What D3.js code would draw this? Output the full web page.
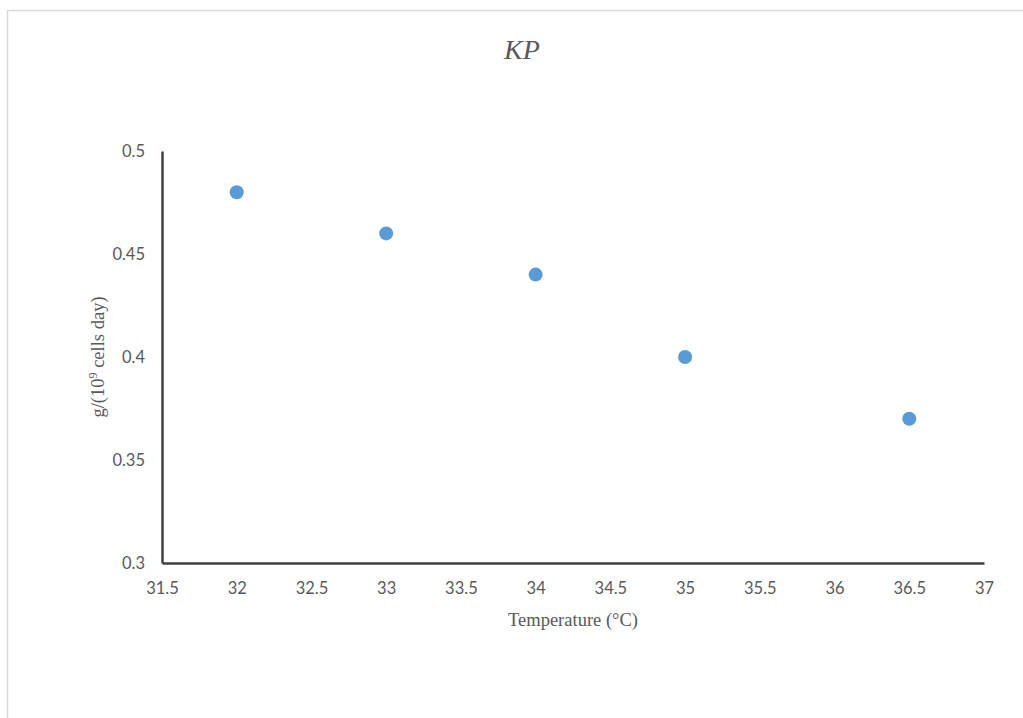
<!DOCTYPE html>
<html>
<head>
<meta charset="utf-8">
<script src="https://cdn.jsdelivr.net/npm/d3@7"></script>
<style>
  body { margin: 0; background: #fff; }
  svg { display: block; }
</style>
</head>
<body>
<div id="chart"></div>
<script>
// data
var temperatures = [32, 33, 34, 35, 36.5];
var growthRates = [0.48, 0.46, 0.44, 0.40, 0.37];
var xTicks = [31.5, 32, 32.5, 33, 33.5, 34, 34.5, 35, 35.5, 36, 36.5, 37];
var yTicks = [0.3, 0.35, 0.4, 0.45, 0.5];

var W = 1023, H = 718;
var margin = { top: 151, right: 39, bottom: 155, left: 162 },
    width = W - margin.left - margin.right,
    height = H - margin.top - margin.bottom;

var svg = d3.select("#chart")
    .append("svg")
    .attr("width", W)
    .attr("height", H);

// chart area border
svg.append("rect")
    .attr("x", 7.5).attr("y", 10.5)
    .attr("width", W + 10).attr("height", H + 10)
    .attr("fill", "none")
    .attr("stroke", "#d9d9d9")
    .attr("stroke-width", 1.5);

var g = svg.append("g")
    .attr("transform", "translate(" + margin.left + "," + margin.top + ")");

var x = d3.scaleLinear().domain([31.5, 37]).range([0, width]);
var y = d3.scaleLinear().domain([0.3, 0.5]).range([height, 0]);

// x axis
var xAxis = g.append("g")
    .attr("transform", "translate(0," + height + ")")
    .call(d3.axisBottom(x).tickValues(xTicks).tickSize(0).tickPadding(19)
        .tickFormat(function (d) { return String(d); }));
xAxis.select(".domain").attr("stroke", "#404040").attr("stroke-width", 2.5);
xAxis.selectAll("text")
    .attr("fill", "#595959")
    .style("font-family", "Lato, 'Open Sans', sans-serif")
    .style("font-size", "16.5px");

// y axis
var yAxis = g.append("g")
    .call(d3.axisLeft(y).tickValues(yTicks).tickSize(0).tickPadding(17)
        .tickFormat(function (d) { return String(+d.toFixed(2)); }));
yAxis.select(".domain").attr("stroke", "#404040").attr("stroke-width", 2.5);
yAxis.selectAll("text")
    .attr("fill", "#595959")
    .style("font-family", "Lato, 'Open Sans', sans-serif")
    .style("font-size", "16.5px");

// points
g.selectAll(".dot")
    .data(temperatures)
    .enter().append("circle")
    .attr("class", "dot")
    .attr("cx", function (d) { return x(d); })
    .attr("cy", function (d, i) { return y(growthRates[i]); })
    .attr("r", 7)
    .attr("fill", "#5b9bd5");

// title
svg.append("text")
    .attr("x", 522).attr("y", 59)
    .attr("text-anchor", "middle")
    .attr("fill", "#595959")
    .style("font-family", "'Liberation Serif', 'Times New Roman', serif")
    .style("font-style", "italic")
    .style("font-size", "28px")
    .text("KP");

// x axis title
svg.append("text")
    .attr("x", 573).attr("y", 626)
    .attr("text-anchor", "middle")
    .attr("fill", "#595959")
    .style("font-family", "'Liberation Serif', 'Times New Roman', serif")
    .style("font-size", "18.5px")
    .text("Temperature (°C)");

// y axis title
var yt = svg.append("text")
    .attr("transform", "translate(104,357) rotate(-90)")
    .attr("text-anchor", "middle")
    .attr("fill", "#595959")
    .style("font-family", "'Liberation Serif', 'Times New Roman', serif")
    .style("font-size", "18.5px");
yt.append("tspan").text("g/(10");
yt.append("tspan").attr("dy", -7).style("font-size", "12px").text("9");
yt.append("tspan").attr("dy", 7).text(" cells day)");
</script>
</body>
</html>
